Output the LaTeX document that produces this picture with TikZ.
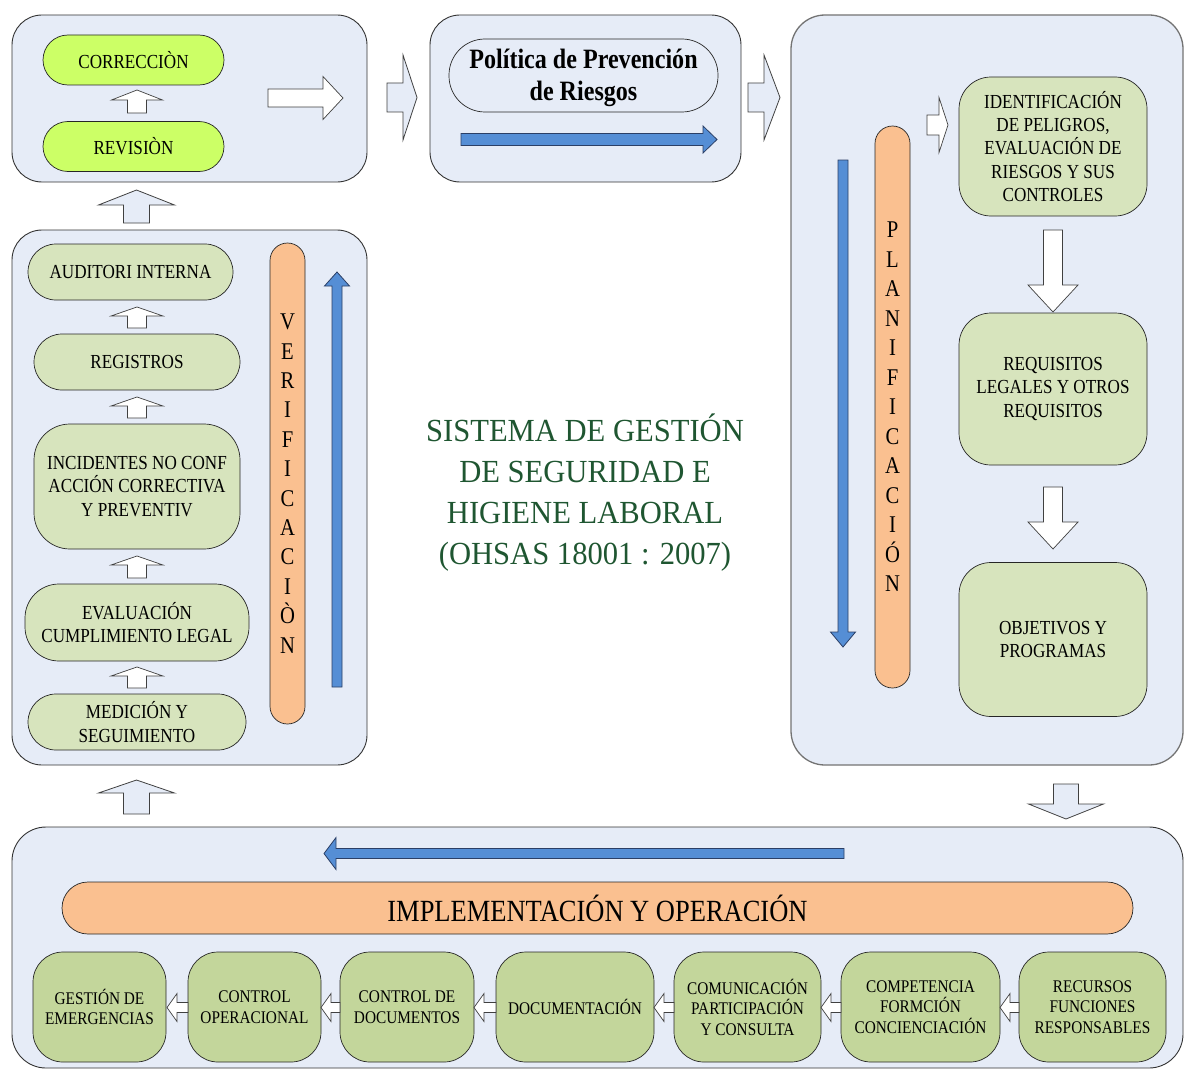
\documentclass[tikz,border=0pt]{standalone}
\usepackage{fontspec}
\setmainfont{Liberation Serif}[FakeStretch=0.86]
\newfontfamily\titlefont{Liberation Serif}[FakeStretch=0.95]
\definecolor{panelblue}{HTML}{E6ECF7}
\definecolor{limegreen}{HTML}{CCFF66}
\definecolor{palegreen}{HTML}{D7E4BD}
\definecolor{olivegreen}{HTML}{C3D69B}
\definecolor{peach}{HTML}{FAC090}
\definecolor{flowblue}{HTML}{558ED5}
\definecolor{flowline}{HTML}{2B3F66}
\definecolor{titlegreen}{HTML}{1F5631}
\newcommand\setfs[2]{\fontsize{#1}{#2}\selectfont}
% block arrow: style, tail x, tail y, direction, length, shaft half width, head half width, head length
\newcommand\blockar[8]{%
  \draw[#1, shift={(#2,#3)}, rotate=#4]
    (0,-#6) -- ({#5-#8},-#6) -- ({#5-#8},-#7) -- (#5,0) -- ({#5-#8},#7) -- ({#5-#8},#6) -- (0,#6) -- cycle;}
\begin{document}
\begin{tikzpicture}[x=1pt,y=-1pt,
  panel/.style={draw=black!80, fill=panelblue, line width=0.9pt, rounded corners=30pt},
  box/.style={draw=black!85, line width=0.7pt, align=center, inner sep=0pt, text=black},
  limebox/.style={box, fill=limegreen, font=\setfs{19.9}{23}},
  greenbox/.style={box, fill=palegreen, font=\setfs{19.9}{23.3}},
  opbox/.style={box, fill=olivegreen, font=\setfs{17.8}{20.5}, minimum height=110pt, rounded corners=30pt},
  bar/.style={box, fill=peach},
  hollow/.style={draw=black!75, line width=0.7pt, fill=white},
  gate/.style={draw=black!75, line width=0.8pt, fill=panelblue},
  flow/.style={draw=flowline, line width=0.8pt, fill=flowblue}]
\useasboundingbox (0,0) rectangle (1190,1070);

% ---- panels
\node[panel, minimum width=355pt, minimum height=167pt] (review) at (189.5,98.5) {};
\node[panel, minimum width=311pt, minimum height=167pt] (policy) at (585.5,98.5) {};
\node[panel, draw=black!55, line width=1.3pt, rounded corners=34pt, minimum width=392pt, minimum height=750pt] (plan) at (987,390) {};
\node[panel, minimum width=355pt, minimum height=535pt] (check) at (189.5,497.5) {};
\node[panel, rounded corners=34pt, minimum width=1171pt, minimum height=241pt] (impl) at (597.5,947.5) {};

% ---- management review
\node[limebox, minimum width=181pt, minimum height=50pt, rounded corners=25pt] (corr) at (133.5,60) {CORRECCIÒN};
\node[limebox, minimum width=181pt, minimum height=50pt, rounded corners=25pt] (rev) at (133.5,146.5) {REVISIÒN};
\blockar{hollow}{137}{113}{90}{23}{9.5}{25.5}{10}
\blockar{hollow}{268}{98}{0}{75}{9}{21.5}{20}

% ---- policy
\node[box, fill=panelblue, minimum width=269pt, minimum height=73pt, rounded corners=36pt] (pol) at (583.5,75.5) {};
\node[align=center, inner sep=0pt, font=\bfseries\setfs{28}{32}] (poltext) at (583.5,78) {Política de Prevención\\de Riesgos};
\blockar{flow}{461}{139.5}{0}{256}{6}{13.5}{14}

% ---- planning
\node[bar, font=\setfs{24}{29.5}, minimum width=35pt, minimum height=562pt, rounded corners=17.5pt] (planbar) at (892.5,407) {P\\L\\A\\N\\I\\F\\I\\C\\A\\C\\I\\Ó\\N};
\blockar{flow}{843}{160}{-90}{487}{5}{12.5}{15}
\blockar{hollow}{927}{125}{0}{21}{10}{27.5}{9}
\node[greenbox, minimum width=188pt, minimum height=139pt, rounded corners=32pt] (ident) at (1053,146.5) {IDENTIFICACIÓN\\DE PELIGROS,\\EVALUACIÓN DE\\RIESGOS Y SUS\\CONTROLES};
\node[greenbox, minimum width=188pt, minimum height=152pt, rounded corners=32pt] (legal) at (1053,389) {REQUISITOS\\LEGALES Y OTROS\\REQUISITOS};
\node[greenbox, minimum width=188pt, minimum height=154pt, rounded corners=32pt] (obj) at (1053,639.5) {OBJETIVOS Y\\PROGRAMAS};
\blockar{hollow}{1053}{230}{-90}{82}{9.5}{25}{27}
\blockar{hollow}{1053}{487}{-90}{62}{9.5}{25}{27}

% ---- checking
\node[greenbox, minimum width=205pt, minimum height=56pt, rounded corners=28pt] (audit) at (130.5,272) {AUDITORI INTERNA};
\node[greenbox, minimum width=206pt, minimum height=56pt, rounded corners=28pt] (records) at (137,362) {REGISTROS};
\node[greenbox, minimum width=206pt, minimum height=125pt, rounded corners=36pt] (incid) at (137,486.5) {INCIDENTES NO CONF\\ACCIÓN CORRECTIVA\\Y PREVENTIV};
\node[greenbox, minimum width=224pt, minimum height=77pt, rounded corners=34pt] (legaleval) at (137,622.5) {EVALUACIÓN\\CUMPLIMIENTO LEGAL};
\node[greenbox, minimum width=218pt, minimum height=56pt, rounded corners=28pt] (measure) at (137,722) {MEDICIÓN Y\\SEGUIMIENTO};
\blockar{hollow}{137}{328}{90}{21}{9.5}{26}{9}
\blockar{hollow}{137}{418}{90}{21}{9.5}{26}{9}
\blockar{hollow}{137}{578}{90}{22}{9.5}{26}{9}
\blockar{hollow}{137}{688}{90}{21}{9.5}{26}{9}
\node[bar, font=\setfs{24}{29.4}, minimum width=35pt, minimum height=481pt, rounded corners=17.5pt] (verbar) at (287.5,483.5) {V\\E\\R\\I\\F\\I\\C\\A\\C\\I\\Ò\\N};
\blockar{flow}{337}{687}{90}{415}{5}{12.5}{14}

% ---- implementation and operation
\blockar{flow}{844}{853.5}{180}{520}{5}{16}{12}
\node[bar, font=\setfs{30.8}{34}, minimum width=1071pt, minimum height=52pt, rounded corners=26pt] (implbar) at (597.5,908) {IMPLEMENTACIÓN Y OPERACIÓN};
\node[opbox, minimum width=133pt] (emerg) at (99.5,1007) {GESTIÓN DE\\EMERGENCIAS};
\node[opbox, minimum width=133pt] (opctrl) at (254.5,1007) {CONTROL\\OPERACIONAL};
\node[opbox, minimum width=134pt] (docctrl) at (407,1007) {CONTROL DE\\DOCUMENTOS};
\node[opbox, minimum width=158pt] (docs) at (575,1007) {DOCUMENTACIÓN};
\node[opbox, minimum width=147pt] (comm) at (747.5,1007) {COMUNICACIÓN\\PARTICIPACIÓN\\Y CONSULTA};
\node[opbox, minimum width=159pt] (comp) at (920.5,1007) {COMPETENCIA\\FORMCIÓN\\CONCIENCIACIÓN};
\node[opbox, minimum width=147pt] (res) at (1092.5,1007) {RECURSOS\\FUNCIONES\\RESPONSABLES};
\blockar{hollow}{188}{1007.5}{180}{21}{5}{14}{10}
\blockar{hollow}{340}{1007.5}{180}{19}{5}{14}{10}
\blockar{hollow}{496}{1007.5}{180}{22}{5}{14}{10}
\blockar{hollow}{674}{1007.5}{180}{20}{5}{14}{10}
\blockar{hollow}{841}{1007.5}{180}{20}{5}{14}{10}
\blockar{hollow}{1019}{1007.5}{180}{19}{5}{14}{10}

% ---- transitions between stages
\blockar{gate}{387}{97.5}{0}{30}{14.5}{42.5}{14}
\blockar{gate}{748}{97.5}{0}{32}{14.5}{42.5}{16}
\blockar{gate}{1066}{784}{-90}{35}{12.5}{37.5}{15}
\blockar{gate}{136.5}{814}{90}{34}{13}{38}{13}
\blockar{gate}{136.5}{223}{90}{33}{13}{38}{15}

% ---- title
\node[align=center, text=titlegreen, font=\titlefont\setfs{32.2}{41}] (title) at (585,493) {SISTEMA DE GESTIÓN\\DE SEGURIDAD E\\HIGIENE LABORAL\\(OHSAS 18001 : 2007)};
\end{tikzpicture}
\end{document}
